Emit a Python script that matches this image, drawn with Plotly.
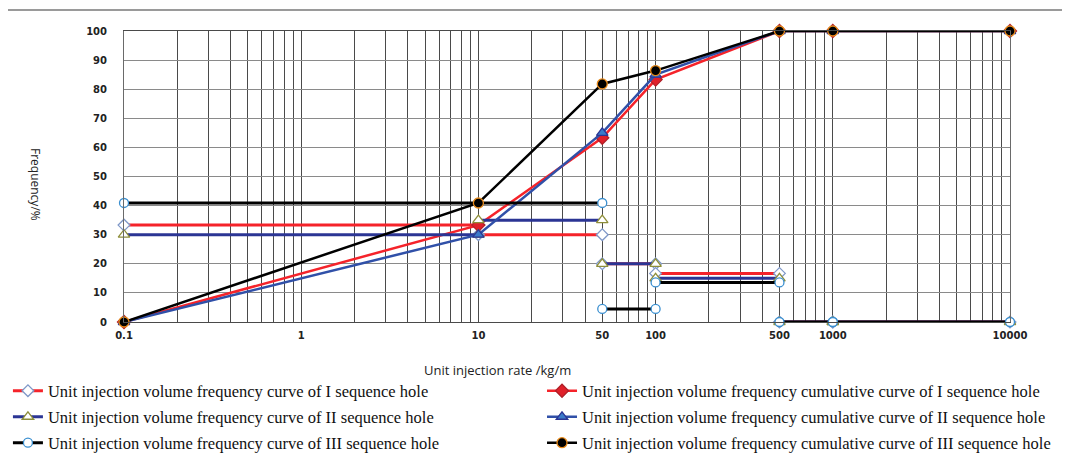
import plotly.graph_objects as go

# ---- data ----
bin_edges = [0.1, 10, 50, 100, 500, 1000, 10000]
freq_I = [33.3, 30.0, 20.0, 16.7, 0.0, 0.0]
freq_II = [30.0, 35.0, 20.0, 15.0, 0.0, 0.0]
freq_III = [40.9, 40.9, 4.5, 13.6, 0.0, 0.0]

cum_x = [0.1, 10, 50, 100, 500, 1000, 10000]
cum_I = [0.0, 33.3, 63.3, 83.3, 100.0, 100.0, 100.0]
cum_II = [0.0, 30.0, 65.0, 85.0, 100.0, 100.0, 100.0]
cum_III = [0.0, 40.9, 81.8, 86.4, 100.0, 100.0, 100.0]

label_ticks = [0.1, 1, 10, 50, 100, 500, 1000, 10000]
y_ticks = [0, 10, 20, 30, 40, 50, 60, 70, 80, 90, 100]

names = [
    "Unit injection volume frequency curve of I sequence hole",
    "Unit injection volume frequency cumulative curve of I sequence hole",
    "Unit injection volume frequency curve of II sequence hole",
    "Unit injection volume frequency cumulative curve of II sequence hole",
    "Unit injection volume frequency curve of III sequence hole",
    "Unit injection volume frequency cumulative curve of III sequence hole",
]


def segments(edges, vals):
    xs, ys = [], []
    for i, v in enumerate(vals):
        xs += [edges[i], edges[i + 1], None]
        ys += [v, v, None]
    return xs, ys


# all log grid positions (1..9 x decade)
grid_vals = []
for e in range(-1, 4):
    for m in range(1, 10):
        grid_vals.append(round(m * 10 ** e, 6))
grid_vals.append(10000)


def fmt(v):
    return "0.1" if v == 0.1 else str(int(v))


grid_text = [fmt(v) if any(abs(v - t) < 1e-9 for t in label_ticks) else "" for v in grid_vals]

fig = go.Figure()

styles = [
    # (kind, data, color, width, symbol, fill, mline, size)
    ("f", freq_I, "#F5232A", 3, "diamond", "white", "#7F98C8", 9),
    ("c", cum_I, "#F5232A", 2.5, "diamond", "#E0202A", "#B02028", 10),
    ("f", freq_II, "#2B3594", 3, "triangle-up", "white", "#8E8E3A", 10),
    ("c", cum_II, "#3050A8", 2.5, "triangle-up", "#3B7BC9", "#2B3594", 10),
    ("f", freq_III, "#000000", 3, "circle", "white", "#3A8FD0", 9),
    ("c", cum_III, "#000000", 2.5, "circle", "#000000", "#E88A1A", 10),
]

legend_ids = ["legend", "legend2", "legend3", "legend4", "legend5", "legend6"]

for i, (kind, data, col, w, sym, fill, mline, size) in enumerate(styles):
    if kind == "f":
        xs, ys = segments(bin_edges, data)
    else:
        xs, ys = cum_x, data
    fig.add_trace(go.Scatter(
        x=xs, y=ys, mode="lines+markers", name=names[i],
        line=dict(color=col, width=w),
        marker=dict(symbol=sym, color=fill, size=size, line=dict(color=mline, width=1.3)),
        connectgaps=False, cliponaxis=False,
        legend=legend_ids[i],
    ))

leg_font = dict(family="Liberation Serif", size=16.5, color="#111")
col_x = [-0.131, 0.4718]
row_y = [-0.2371, -0.3265, -0.4158]

legends = {}
for i, lid in enumerate(legend_ids):
    legends[lid] = dict(x=col_x[i % 2], xanchor="left", y=row_y[i // 2], yanchor="middle",
                        orientation="v", font=leg_font, bgcolor="rgba(0,0,0,0)")

fig.update_layout(
    width=1070, height=454,
    margin=dict(l=116, r=68, t=23, b=140, autoexpand=False),
    paper_bgcolor="white", plot_bgcolor="white",
    showlegend=True,
    **legends,
    xaxis=dict(type="log", range=[-1, 4], tickmode="array",
               tickvals=grid_vals, ticktext=grid_text,
               showgrid=True, gridcolor="#4a4a4a", gridwidth=1,
               ticks="", ticklabelstandoff=4,
               tickfont=dict(family="DejaVu Sans", size=10, color="#222", weight="bold"),
               showline=True, linecolor="#4a4a4a", mirror=True, zeroline=False),
    yaxis=dict(range=[0, 100], tickmode="array", tickvals=y_ticks,
               showgrid=True, gridcolor="#8a8a8a", gridwidth=1,
               ticks="", ticklabelstandoff=14,
               tickfont=dict(family="DejaVu Sans", size=10, color="#222", weight="bold"),
               showline=True, linecolor="#6a6a6a", mirror=True, zeroline=False),
    annotations=[
        dict(text="Unit injection rate /kg/m", xref="paper", yref="paper",
             x=0.422, y=-0.165, xanchor="center", yanchor="middle", showarrow=False,
             font=dict(family="Open Sans", size=13, color="#222")),
        dict(text="Frequency/%", xref="paper", yref="paper",
             x=-0.1005, y=0.471, xanchor="center", yanchor="middle", showarrow=False,
             textangle=90, font=dict(family="Open Sans", size=12, color="#222")),
    ],
    shapes=[
        dict(type="rect", xref="paper", yref="paper", x0=-0.132, x1=1.2, y0=-0.6, y1=1.072,
             line=dict(color="#7a7a7a", width=1.5), fillcolor="rgba(0,0,0,0)", layer="below"),
    ],
)

fig.write_html("out.html")
